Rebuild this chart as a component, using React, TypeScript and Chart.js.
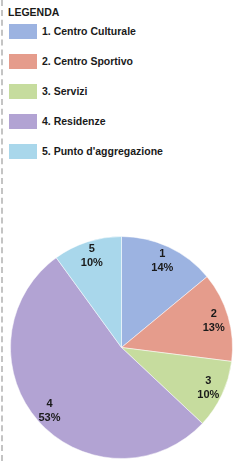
import { useEffect, useRef } from "react";
import { Chart, registerables } from "chart.js";

Chart.register(...registerables);

const legendTitle = "LEGENDA";
const categories = [
  "1. Centro Culturale",
  "2. Centro Sportivo",
  "3. Servizi",
  "4. Residenze",
  "5. Punto d'aggregazione",
];
const sliceNumbers = ["1", "2", "3", "4", "5"];
const values = [14, 13, 10, 53, 10];
const colors = ["#9cb3e1", "#e59c8c", "#c6dc9e", "#b2a3d3", "#a9d7eb"];

const FONT = '"Liberation Sans", Arial, sans-serif';

const labelPlugin = {
  id: "sliceLabels",
  afterDatasetsDraw(chart: any) {
    const ctx = chart.ctx;
    const meta = chart.getDatasetMeta(0);
    const total = values.reduce((a, b) => a + b, 0);
    ctx.save();
    ctx.fillStyle = "#1a1a1a";
    ctx.font = `bold 11px ${FONT}`;
    ctx.textAlign = "center";
    ctx.textBaseline = "middle";
    meta.data.forEach((arc: any, i: number) => {
      const { x, y, startAngle, endAngle, outerRadius } = arc.getProps(
        ["x", "y", "startAngle", "endAngle", "outerRadius"],
        true
      );
      const mid = (startAngle + endAngle) / 2;
      const r = outerRadius * 0.865;
      const px = x + Math.cos(mid) * r;
      const py = y + Math.sin(mid) * r;
      const pct = Math.round((values[i] / total) * 100) + "%";
      ctx.fillText(sliceNumbers[i], px, py - 7);
      ctx.fillText(pct, px, py + 7);
    });
    ctx.restore();
  },
};

export default function App() {
  const canvasRef = useRef<HTMLCanvasElement | null>(null);

  useEffect(() => {
    if (!canvasRef.current) return;
    const chart = new Chart(canvasRef.current, {
      type: "pie",
      data: {
        labels: categories,
        datasets: [
          {
            data: values,
            backgroundColor: colors,
            borderColor: "rgba(255,255,255,0.5)",
            borderWidth: 1,
            hoverOffset: 0,
          },
        ],
      },
      options: {
        responsive: false,
        animation: false,
        layout: { padding: 2 },
        plugins: {
          legend: { display: false },
          tooltip: { enabled: false },
        },
      },
      plugins: [labelPlugin],
    });
    return () => chart.destroy();
  }, []);

  return (
    <div
      style={{
        position: "absolute",
        left: 0,
        top: 0,
        width: 243,
        height: 461,
        background: "#ffffff",
        overflow: "hidden",
        fontFamily: FONT,
      }}
    >
      <div
        style={{
          position: "absolute",
          left: 1,
          top: 0,
          width: 0,
          height: 461,
          borderLeft: "2px dashed #c4c4c4",
        }}
      />
      <div
        style={{
          position: "absolute",
          left: 8,
          top: 5,
          fontSize: 10.5,
          fontWeight: "bold",
          lineHeight: "15px",
          color: "#1a1a1a",
          whiteSpace: "nowrap",
        }}
      >
        {legendTitle}
      </div>
      {categories.map((c, i) => (
        <div
          key={c}
          style={{
            position: "absolute",
            left: 9,
            top: 24 + i * 30,
            height: 15,
            display: "flex",
            alignItems: "center",
            whiteSpace: "nowrap",
          }}
        >
          <div style={{ width: 28, height: 15, background: colors[i] }} />
          <div
            style={{
              marginLeft: 5,
              fontSize: 10.5,
              fontWeight: "bold",
              lineHeight: "15px",
              color: "#1a1a1a",
            }}
          >
            {c}
          </div>
        </div>
      ))}
      <canvas
        ref={canvasRef}
        width={243}
        height={227}
        style={{ position: "absolute", left: 0, top: 234, width: 243, height: 227 }}
      />
    </div>
  );
}
